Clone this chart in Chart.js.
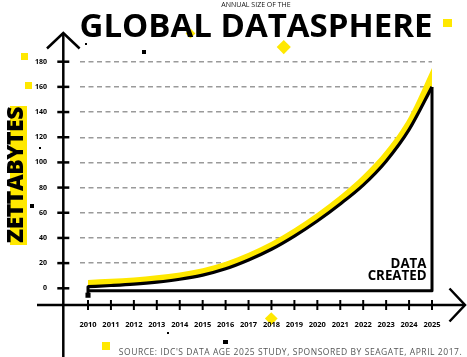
<!DOCTYPE html>
<html><head><meta charset="utf-8">
<script src="https://cdn.jsdelivr.net/npm/chart.js@4.4.1/dist/chart.umd.min.js"></script>
<style>
html,body{margin:0;padding:0;background:#fff;}
#wrap{position:relative;width:467px;height:357px;overflow:hidden;font-family:'Open Sans',sans-serif;}
canvas{position:absolute;left:0;top:0;z-index:2;}
.deco{position:absolute;z-index:1;}
.yl{background:#ffe800;}
.bk{background:#000;z-index:3;}
.dm{transform:rotate(45deg);}
.txt{position:absolute;z-index:4;white-space:nowrap;line-height:1;color:#000;}
</style></head>
<body><div id="wrap">
<div class="deco yl" style="left:21px;top:53px;width:7px;height:7px"></div>
<div class="deco yl" style="left:25px;top:82px;width:7px;height:7px"></div>
<div class="deco yl" style="left:443px;top:19px;width:9px;height:8px"></div>
<div class="deco yl" style="left:102px;top:342px;width:8px;height:8px"></div>
<div class="deco yl dm" style="left:278.5px;top:42px;width:9.5px;height:9.5px"></div>
<div class="deco yl dm" style="left:186.5px;top:29.5px;width:7px;height:7px"></div>
<div class="deco yl dm" style="left:267px;top:314px;width:8.5px;height:8.5px"></div>
<div class="deco yl" style="left:9.5px;top:106px;width:17px;height:139px"></div>
<div class="deco bk" style="left:85px;top:42.7px;width:2.3px;height:2.3px"></div>
<div class="deco bk" style="left:141.7px;top:50px;width:4px;height:4px"></div>
<div class="deco bk" style="left:39px;top:147px;width:2px;height:2px"></div>
<div class="deco bk" style="left:30px;top:204px;width:3.5px;height:3.5px"></div>
<div class="deco bk" style="left:166.7px;top:332.3px;width:2px;height:2px"></div>
<div class="deco bk" style="left:223.3px;top:339.5px;width:4.4px;height:4.4px"></div>
<canvas id="c" width="467" height="357"></canvas>
<div class="txt" style="left:256px;top:0.5px;font-size:7px;transform:translateX(-50%);color:#111">ANNUAL SIZE OF THE</div>
<div class="txt" style="left:256px;top:7.7px;font-size:33px;font-weight:700;transform:translateX(-50%);">GLOBAL DATASPHERE</div>
<div class="txt" style="left:14.2px;top:175.3px;font-size:23px;font-weight:800;letter-spacing:-0.5px;transform:translate(-50%,-50%) rotate(-90deg);">ZETTABYTES</div>
<div class="txt" style="right:40.5px;top:258px;font-size:13.3px;font-weight:700;line-height:11.7px;text-align:right;">DATA<br>CREATED</div>
<div class="txt" style="left:290.5px;top:347.5px;font-size:8.5px;letter-spacing:0.55px;transform:translateX(-50%);color:#555">SOURCE: IDC'S DATA AGE 2025 STUDY, SPONSORED BY SEAGATE, APRIL 2017.</div>
</div>
<script>
const years = [2010,2011,2012,2013,2014,2015,2016,2017,2018,2019,2020,2021,2022,2023,2024,2025];
const zettabytes = [1.3,2.2,3.3,4.9,7.2,10.5,15.5,22.5,31,41.5,53.5,67,82,101,126,160];
const glowTop = [6.6,7.5,8.6,10.3,12.6,16,21.1,28.3,37,47.7,60,74,90,109.8,136.3,175];
const yTickValues = [0,20,40,60,80,100,120,140,160,180];
const boxYears = [2010,2010,2010,2025,2025];
const boxValues = [1.3,-5.5,-2,-2,160];

const YELLOW = '#ffe800';
const pts = (xs, ys) => xs.map((x,i)=>({x, y: ys[i]}));

const axesDeco = {
  id: 'axesDeco',
  afterDraw(chart){
    const ctx = chart.ctx, xs = chart.scales.x, ys = chart.scales.y;
    const axX = 63.3, axY = chart.chartArea.bottom;
    ctx.save();
    ctx.strokeStyle = '#000';
    ctx.lineWidth = 2.5;
    ctx.lineJoin = 'miter';
    ctx.beginPath(); ctx.moveTo(axX, 357); ctx.lineTo(axX, 33); ctx.stroke();
    ctx.beginPath(); ctx.moveTo(47, 48.5); ctx.lineTo(axX, 33); ctx.lineTo(79.6, 48.5); ctx.stroke();
    ctx.beginPath(); ctx.moveTo(37, axY); ctx.lineTo(465, axY); ctx.stroke();
    ctx.beginPath(); ctx.moveTo(449.5, 288.5); ctx.lineTo(465, axY); ctx.lineTo(449.5, 321.5); ctx.stroke();
    yTickValues.forEach(v=>{
      const py = ys.getPixelForValue(v);
      ctx.beginPath(); ctx.moveTo(57.3, py); ctx.lineTo(69.3, py); ctx.stroke();
    });
    ctx.lineWidth = 2;
    years.forEach(v=>{
      const px = xs.getPixelForValue(v);
      ctx.beginPath(); ctx.moveTo(px, axY-5); ctx.lineTo(px, axY+5); ctx.stroke();
    });
    ctx.restore();
  }
};

Chart.defaults.font.family = "'Open Sans', sans-serif";

new Chart(document.getElementById('c'), {
  type: 'line',
  data: {
    datasets: [
      {
        label: 'glow',
        data: pts(years, glowTop),
        borderWidth: 0,
        borderColor: YELLOW,
        backgroundColor: YELLOW,
        fill: '+1',
        pointRadius: 0,
        cubicInterpolationMode: 'monotone',
        clip: false,
        order: 2
      },
      {
        label: 'Data created',
        data: pts(years, zettabytes),
        borderWidth: 3.2,
        borderColor: '#000',
        backgroundColor: '#fff',
        fill: {value: -2},
        pointRadius: 0,
        cubicInterpolationMode: 'monotone',
        clip: false,
        order: 1
      },
      {
        label: 'box',
        data: pts(boxYears, boxValues),
        borderWidth: 3,
        borderColor: '#000',
        backgroundColor: '#000',
        borderJoinStyle: 'round',
        fill: false,
        tension: 0,
        pointStyle: 'rect',
        pointRadius: ctx => ctx.dataIndex === 1 ? 3.6 : 0,
        pointBorderWidth: 0,
        clip: false,
        order: 0
      }
    ]
  },
  options: {
    responsive: false,
    animation: false,
    events: [],
    layout: {padding: {top: 61.7, right: 35, left: 0, bottom: 0}},
    plugins: {legend: {display: false}, tooltip: {enabled: false}},
    scales: {
      x: {
        type: 'linear',
        min: 2009.651,
        max: 2025,
        afterBuildTicks: s => { s.ticks = years.map(v => ({value: v})); },
        afterFit: s => { s.height = 52; },
        grid: {display: false, drawTicks: false},
        border: {display: false},
        ticks: {
          autoSkip: false, maxRotation: 0, minRotation: 0,
          padding: 15,
          color: '#000',
          font: {size: 7.5, weight: 'bold'},
          callback: v => String(v)
        }
      },
      y: {
        type: 'linear',
        min: -13.27,
        max: 180,
        afterBuildTicks: s => { s.ticks = yTickValues.map(v => ({value: v})); },
        afterFit: s => { s.width = 80; },
        grid: {
          drawTicks: false,
          lineWidth: 1.4,
          color: c => (c.tick && c.tick.value === 0) ? 'rgba(0,0,0,0)' : '#9a9a9a'
        },
        border: {display: false, dash: [5, 3.5]},
        ticks: {
          padding: 33,
          color: '#000',
          font: {size: 7, weight: 'bold'},
          callback: v => String(v)
        }
      }
    }
  },
  plugins: [axesDeco]
});
</script>
</body></html>
